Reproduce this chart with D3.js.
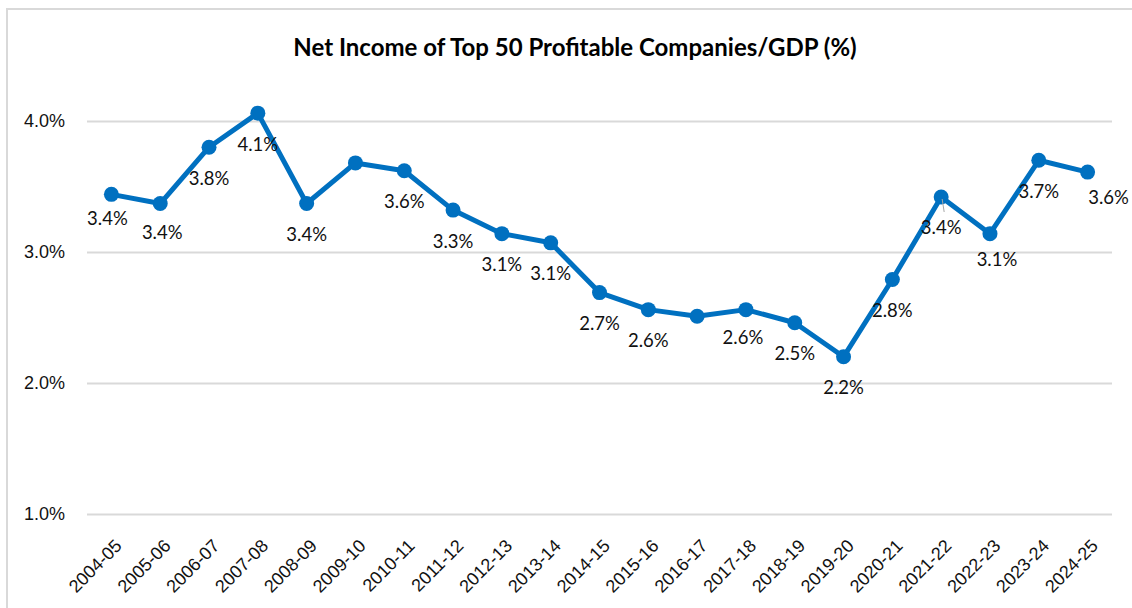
<!DOCTYPE html>
<html>
<head>
<meta charset="utf-8">
<script src="https://cdn.jsdelivr.net/npm/d3@7"></script>
<style>
  html, body { margin: 0; padding: 0; background: #fff; }
  svg { display: block; font-family: Lato, 'Open Sans', sans-serif; }
</style>
</head>
<body>
<svg id="chart" width="1132" height="608"></svg>
<script>
const years = ['2004-05', '2005-06', '2006-07', '2007-08', '2008-09', '2009-10', '2010-11',
  '2011-12', '2012-13', '2013-14', '2014-15', '2015-16', '2016-17', '2017-18', '2018-19',
  '2019-20', '2020-21', '2021-22', '2022-23', '2023-24', '2024-25'];
const netIncomeGdp = [3.44, 3.37, 3.80, 4.06, 3.37, 3.68, 3.62, 3.32, 3.14, 3.07, 2.69,
  2.56, 2.51, 2.56, 2.46, 2.20, 2.79, 3.42, 3.14, 3.70, 3.61];
const yTicks = [1, 2, 3, 4];
// the original leaves these two points unlabelled
const unlabelled = ['2009-10', '2016-17'];

const svg = d3.select('#chart');
const width = +svg.attr('width');

const margin = { left: 87, right: 20, top: 121, bottom: 94 };

const x = d3.scalePoint()
  .domain(years)
  .range([margin.left, width - margin.right])
  .padding(0.5);

const y = d3.scaleLinear()
  .domain([1, 4])
  .range([514, 121]);

const data = years.map((year, i) => ({ year, value: netIncomeGdp[i] }));

// outer chart border
svg.append('rect')
  .attr('x', 7)
  .attr('y', 9)
  .attr('width', width + 20)
  .attr('height', 700)
  .attr('fill', 'none')
  .attr('stroke', '#d9d9d9')
  .attr('stroke-width', 2);

svg.append('text')
  .attr('x', 575)
  .attr('y', 56)
  .attr('text-anchor', 'middle')
  .style('font-size', '24px')
  .style('font-weight', 'bold')
  .style('fill', '#000')
  .text('Net Income of Top 50 Profitable Companies/GDP (%)');

const yAxis = svg.append('g')
  .attr('transform', `translate(${margin.left},0)`)
  .call(d3.axisLeft(y)
    .tickValues(yTicks)
    .tickSize(-(width - margin.left - margin.right))
    .tickPadding(22)
    .tickFormat(d => d.toFixed(1) + '%'));
yAxis.select('.domain').remove();
yAxis.selectAll('.tick line')
  .attr('stroke', '#d9d9d9')
  .attr('stroke-width', 2);
yAxis.selectAll('.tick text')
  .style('font-size', '18px')
  .style('fill', '#111')
  .attr('font-family', null);

const xAxis = svg.append('g')
  .attr('transform', 'translate(0,514)')
  .call(d3.axisBottom(x).tickSize(0).tickPadding(0));
xAxis.select('.domain').remove();
xAxis.selectAll('.tick text')
  .attr('font-family', null)
  .attr('text-anchor', 'end')
  .attr('dy', null)
  .attr('y', null)
  .attr('transform', 'translate(11,33) rotate(-45)')
  .style('font-size', '18px')
  .style('fill', '#111');

const line = d3.line()
  .x(d => x(d.year))
  .y(d => y(d.value));

svg.append('path')
  .datum(data)
  .attr('d', line)
  .attr('fill', 'none')
  .attr('stroke', '#0070c0')
  .attr('stroke-width', 5)
  .attr('stroke-linejoin', 'round');

svg.selectAll('.dot')
  .data(data)
  .enter().append('circle')
  .attr('class', 'dot')
  .attr('cx', d => x(d.year))
  .attr('cy', d => y(d.value))
  .attr('r', 7.5)
  .attr('fill', '#0070c0');

// labels sit below the markers; a few were dragged by hand in the source
const nudge = {
  '2004-05': [-4, -7],
  '2005-06': [2, -2],
  '2017-18': [-3, -3],
  '2022-23': [7, -5],
  '2024-25': [21, -6]
};

// leader line left behind by the moved 2021-22 label
svg.append('line')
  .attr('x1', x('2021-22') + 1)
  .attr('y1', y(netIncomeGdp[years.indexOf('2021-22')]) + 2)
  .attr('x2', x('2021-22') + 3)
  .attr('y2', y(netIncomeGdp[years.indexOf('2021-22')]) + 15)
  .attr('stroke', '#a6a6a6')
  .attr('stroke-width', 1);

svg.selectAll('.label')
  .data(data.filter(d => !unlabelled.includes(d.year)))
  .enter().append('text')
  .attr('class', 'label')
  .attr('x', d => x(d.year) + (nudge[d.year] ? nudge[d.year][0] : 0))
  .attr('y', d => y(d.value) + 31 + (nudge[d.year] ? nudge[d.year][1] : 0))
  .attr('dy', '0.35em')
  .attr('text-anchor', 'middle')
  .style('font-size', '18.5px')
  .style('fill', '#111')
  .text(d => d.value.toFixed(1) + '%');
</script>
</body>
</html>
